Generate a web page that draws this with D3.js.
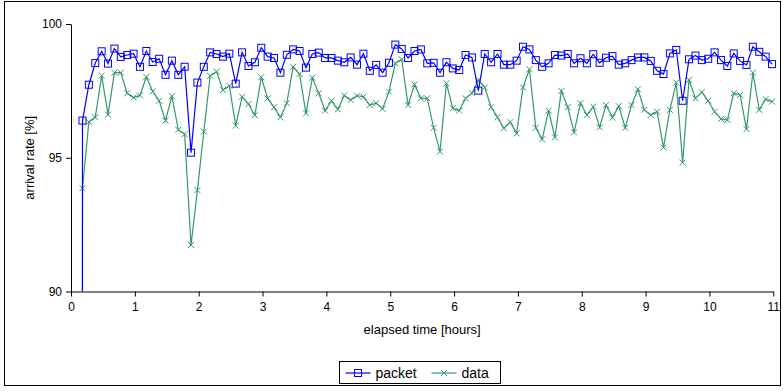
<!DOCTYPE html>
<html>
<head>
<meta charset="utf-8">
<script src="https://cdn.jsdelivr.net/npm/d3@7"></script>
<style>
    body { margin: 0; background: #fff; }
    text { font-family: "Liberation Sans", Arial, sans-serif; fill: #000; }
</style>
</head>
<body>
<div id="chart"></div>
<script>
// elapsed time of each sample [hours]; first sample is the start-up drop below 90
const hours = [0.17,
    0.18, 0.28, 0.38, 0.48, 0.58, 0.68, 0.78, 0.88, 0.98, 1.08,
    1.18, 1.28, 1.38, 1.48, 1.58, 1.68, 1.78, 1.88, 1.98, 2.08,
    2.18, 2.28, 2.38, 2.48, 2.58, 2.68, 2.78, 2.88, 2.98, 3.08,
    3.18, 3.28, 3.38, 3.48, 3.58, 3.68, 3.78, 3.88, 3.98, 4.08,
    4.18, 4.28, 4.38, 4.48, 4.58, 4.68, 4.78, 4.88, 4.98, 5.08,
    5.18, 5.28, 5.38, 5.48, 5.58, 5.68, 5.78, 5.88, 5.98, 6.08,
    6.18, 6.28, 6.38, 6.48, 6.58, 6.68, 6.78, 6.88, 6.98, 7.08,
    7.18, 7.28, 7.38, 7.48, 7.58, 7.68, 7.78, 7.88, 7.98, 8.08,
    8.18, 8.28, 8.38, 8.48, 8.58, 8.68, 8.78, 8.88, 8.98, 9.08,
    9.18, 9.28, 9.38, 9.48, 9.58, 9.68, 9.78, 9.88, 9.98, 10.08,
    10.18, 10.28, 10.38, 10.48, 10.58, 10.68, 10.78, 10.88, 10.98];

const packet = [0,
    96.39, 97.73, 98.54, 98.98, 98.52, 99.08, 98.77, 98.84, 98.89, 98.40,
    98.99, 98.58, 98.70, 98.10, 98.63, 98.10, 98.40, 95.19, 97.81, 98.40,
    98.94, 98.88, 98.78, 98.89, 97.77, 98.94, 98.43, 98.57, 99.11, 98.78,
    98.73, 98.18, 98.85, 99.05, 98.99, 98.37, 98.88, 98.93, 98.73, 98.73,
    98.63, 98.57, 98.75, 98.48, 98.89, 98.25, 98.47, 98.18, 98.55, 99.23,
    99.07, 98.73, 98.99, 99.05, 98.53, 98.55, 98.18, 98.57, 98.34, 98.28,
    98.84, 98.75, 97.51, 98.88, 98.57, 98.88, 98.48, 98.48, 98.63, 99.15,
    99.05, 98.65, 98.40, 98.53, 98.84, 98.82, 98.88, 98.53, 98.72, 98.53,
    98.87, 98.55, 98.74, 98.80, 98.48, 98.53, 98.65, 98.75, 98.75, 98.62,
    98.25, 98.13, 98.90, 99.03, 97.13, 98.68, 98.82, 98.65, 98.70, 98.94,
    98.65, 98.43, 98.90, 98.62, 98.47, 99.15, 98.96, 98.78, 98.50];

const data = [0,
    93.86, 96.34, 96.51, 98.07, 96.61, 98.18, 98.18, 97.41, 97.25, 97.33,
    98.02, 97.48, 97.13, 96.39, 97.30, 96.05, 95.88, 91.74, 93.79, 95.98,
    98.06, 98.22, 97.53, 97.69, 96.20, 97.28, 97.01, 96.59, 98.01, 97.22,
    96.89, 96.51, 97.04, 98.40, 98.13, 96.66, 97.99, 97.41, 96.76, 97.13,
    96.81, 97.33, 97.16, 97.32, 97.28, 96.97, 97.04, 96.83, 97.47, 98.53,
    98.68, 96.97, 97.74, 97.22, 97.22, 96.12, 95.23, 97.78, 96.85, 96.76,
    97.22, 97.41, 97.91, 97.63, 96.89, 96.51, 96.10, 96.33, 95.91, 97.63,
    98.31, 96.12, 95.69, 96.76, 95.76, 97.50, 96.89, 95.95, 97.04, 96.60,
    96.91, 96.14, 96.97, 96.50, 96.93, 96.12, 96.97, 97.56, 96.79, 96.60,
    96.72, 95.38, 96.79, 97.81, 94.82, 97.91, 97.22, 97.45, 97.13, 96.72,
    96.45, 96.41, 97.41, 97.35, 96.07, 98.18, 96.79, 97.19, 97.10];

const xTicks = d3.range(0, 12);
const yTicks = [90, 95, 100];

const width = 783;
const height = 392;
const blue = "#0000ff";
const green = "#339966";

const svg = d3.select("#chart")
    .append("svg")
    .attr("width", width)
    .attr("height", height);

// outer chart frame
svg.append("rect")
    .attr("x", 4.5)
    .attr("y", 1.5)
    .attr("width", 776)
    .attr("height", 384)
    .attr("fill", "#fff")
    .attr("stroke", "#000");

const x = d3.scaleLinear().domain([0, 11]).range([71, 773.3]);
const y = d3.scaleLinear().domain([90, 100]).range([291.5, 24]);

svg.append("clipPath")
    .attr("id", "plotClip")
    .append("rect")
    .attr("x", x(0))
    .attr("y", y(100) - 5)
    .attr("width", x(11) - x(0) + 5)
    .attr("height", y(90) - y(100) + 5);

// axes
const xAxis = svg.append("g")
    .attr("transform", `translate(0,${y(90)})`)
    .call(d3.axisBottom(x).tickValues(xTicks).tickSize(5).tickPadding(6).tickSizeOuter(0));

const yAxis = svg.append("g")
    .attr("transform", `translate(${x(0)},0)`)
    .call(d3.axisLeft(y).tickValues(yTicks).tickSize(5).tickPadding(4).tickSizeOuter(0));

[xAxis, yAxis].forEach(a => {
    a.select(".domain").attr("stroke", "#000");
    a.selectAll(".tick line").attr("stroke", "#000");
    a.selectAll("text")
        .style("font-family", "'Liberation Sans', Arial, sans-serif")
        .style("font-size", "12px")
        .attr("fill", "#000");
});

svg.append("text")
    .attr("x", (x(0) + x(11)) / 2)
    .attr("y", 334)
    .attr("text-anchor", "middle")
    .style("font-size", "13px")
    .text("elapsed time [hours]");

svg.append("text")
    .attr("transform", `translate(34,${y(95)}) rotate(-90)`)
    .attr("text-anchor", "middle")
    .style("font-size", "13px")
    .text("arrival rate [%]");

// series
const series = [
    { name: "packet", values: packet, color: blue, marker: "square" },
    { name: "data", values: data, color: green, marker: "cross" }
];

const plot = svg.append("g").attr("clip-path", "url(#plotClip)");

const line = d3.line()
    .x((d, i) => x(hours[i]))
    .y(d => y(d));

const drawMarker = (g, type, color) => {
    if (type === "square") {
        g.append("rect")
            .attr("x", -3.5).attr("y", -3.5)
            .attr("width", 7).attr("height", 7)
            .attr("fill", "none")
            .attr("stroke", color)
            .attr("stroke-width", 1);
    } else {
        g.append("path")
            .attr("d", "M-3,-3L3,3M-3,3L3,-3")
            .attr("stroke", color)
            .attr("stroke-width", 1);
    }
};

// data first so packet sits on top
series.slice().reverse().forEach(s => {
    plot.append("path")
        .datum(s.values)
        .attr("d", line)
        .attr("fill", "none")
        .attr("stroke", s.color)
        .attr("stroke-width", 1.2);

    plot.selectAll(`.m-${s.name}`)
        .data(s.values.map((v, i) => [hours[i], v]).filter(d => d[1] >= 90))
        .enter()
        .append("g")
        .attr("class", `m-${s.name}`)
        .attr("transform", d => `translate(${x(d[0])},${y(d[1])})`)
        .each(function() { drawMarker(d3.select(this), s.marker, s.color); });
});

// legend
const legend = svg.append("g").attr("transform", "translate(339.5,361.5)");

legend.append("rect")
    .attr("width", 161)
    .attr("height", 22)
    .attr("fill", "#fff")
    .attr("stroke", "#000");

const legendItems = [
    { label: "packet", x0: 6, color: blue, marker: "square" },
    { label: "data", x0: 92, color: green, marker: "cross" }
];

legendItems.forEach(item => {
    const g = legend.append("g").attr("transform", `translate(${item.x0},11.5)`);
    g.append("line")
        .attr("x1", 0).attr("x2", 25)
        .attr("stroke", item.color)
        .attr("stroke-width", 1.2);
    const m = g.append("g").attr("transform", "translate(12.5,0)");
    drawMarker(m, item.marker, item.color);
    g.append("text")
        .attr("x", 30)
        .attr("dy", "0.35em")
        .style("font-size", "14px")
        .text(item.label);
});
</script>
</body>
</html>
